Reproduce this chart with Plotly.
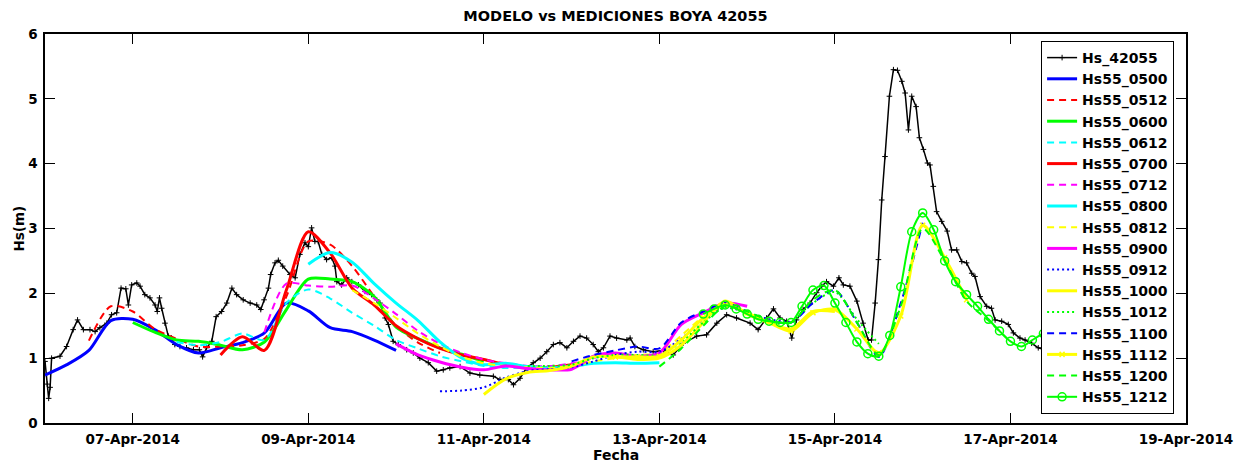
import plotly.graph_objects as go
import pandas as pd

BASE = pd.Timestamp("2014-04-06 00:00")

# ---------------- buoy 42055 (hours since 06-Apr-2014 00:00, Hs in m) ----------------
buoy_hours = [0.0, 0.6, 1.0, 1.4, 1.8, 4.1, 5.9, 7.7, 8.9, 10.5, 12.3, 13.7, 15.0, 16.9, 18.2, 19.6,
              20.8, 22.1, 22.8, 23.7, 25.1, 26.0, 27.3, 28.7, 30.1, 30.7, 31.3, 31.9, 32.8, 33.7,
              34.6, 35.5, 36.9, 38.7, 40.6, 42.2, 43.1, 44.2, 45.6, 46.8, 48.3, 49.7, 51.1, 52.4,
              54.2, 56.1, 57.9, 59.0, 59.9, 61.1, 61.7, 62.9, 63.8, 65.0, 67.0, 68.4, 69.7, 71.1,
              72.0, 72.9, 73.8, 74.7, 75.7, 77.0, 78.4, 79.3, 79.8, 81.1, 82.5, 83.9, 85.7, 87.5,
              89.3, 90.7, 91.6, 93.0, 93.9, 95.2, 96.6, 98.9, 100.7, 102.5, 104.8, 107.1, 108.9,
              110.7, 113.5, 116.2, 118.9, 122.6, 124.4, 126.7, 128.1, 129.9, 131.7, 133.5, 135.4,
              137.2, 139.0, 140.8, 142.7, 144.5, 146.3, 148.1, 149.9, 151.3, 152.7, 154.5, 156.3,
              159.1, 160.0, 161.3, 163.6, 166.3, 169.1, 171.8, 174.5, 178.2, 180.9, 183.7, 186.4,
              189.1, 192.8, 195.0, 197.3, 199.2, 201.0, 202.8, 204.2, 205.5, 207.3, 209.2, 211.0,
              212.4, 213.7, 215.6, 217.1, 218.3, 220.1, 222.0, 223.7, 225.1, 226.0, 227.0, 227.9,
              228.8, 229.7, 230.9, 232.0, 233.1, 234.3, 235.2, 236.1, 237.0, 238.2, 239.1, 240.2,
              241.3, 242.0, 242.9, 243.8, 245.2, 246.7, 247.9, 249.3, 250.7, 252.0, 253.4, 254.3,
              255.7, 257.5, 258.8, 259.8, 261.6, 263.4, 264.8, 266.6, 268.0, 269.8, 271.6, 274.0]
buoy_hs = [0.95, 0.60, 0.38, 0.55, 1.00, 1.03, 1.18, 1.44, 1.59, 1.44, 1.44, 1.41, 1.47, 1.54, 1.67, 1.70,
           2.08, 2.07, 1.82, 2.13, 2.16, 2.11, 1.98, 1.93, 1.82, 1.72, 1.93, 1.77, 1.54, 1.34,
           1.31, 1.21, 1.18, 1.16, 1.13, 1.13, 1.02, 1.16, 1.26, 1.64, 1.72, 1.85, 2.08, 1.98,
           1.90, 1.85, 1.82, 1.75, 1.90, 2.08, 2.29, 2.47, 2.51, 2.42, 2.29, 2.24, 2.60, 2.78,
           2.72, 3.01, 2.80, 2.80, 2.60, 2.52, 2.55, 2.42, 2.18, 2.13, 2.24, 2.18, 2.13, 2.03,
           1.98, 1.90, 1.85, 1.62, 1.52, 1.26, 1.21, 1.13, 1.08, 1.00, 0.93, 0.80, 0.82,
           0.85, 0.87, 0.77, 0.74, 0.72, 0.67, 0.67, 0.59, 0.69, 0.85, 0.93, 1.00,
           1.10, 1.21, 1.24, 1.16, 1.26, 1.34, 1.31, 1.21, 1.10, 1.16, 1.34, 1.31,
           1.28, 1.31, 1.18, 1.13, 1.10, 1.12, 1.05, 1.23, 1.34, 1.36, 1.54, 1.67,
           1.62, 1.54, 1.44, 1.62, 1.76, 1.62, 1.57, 1.31, 1.59, 1.75, 1.85, 2.01,
           2.11, 2.18, 2.11, 2.24, 2.13, 2.11, 1.88, 1.54, 1.28, 1.28, 1.85, 2.52,
           3.44, 4.11, 5.04, 5.45, 5.44, 5.27, 5.09, 4.52, 5.04, 4.88, 4.40, 4.22,
           4.01, 3.98, 3.65, 3.26, 3.11, 2.96, 2.67, 2.67, 2.49, 2.47, 2.31, 2.26,
           1.95, 1.80, 1.77, 1.59, 1.57, 1.52, 1.39, 1.31, 1.28, 1.23, 1.16, 1.12]

# ---------------- model runs (values every step_h hours from start_h) ----------------
run_names = ["Hs55_0500", "Hs55_0512", "Hs55_0600", "Hs55_0612", "Hs55_0700", "Hs55_0712",
             "Hs55_0800", "Hs55_0812", "Hs55_0900", "Hs55_0912", "Hs55_1000", "Hs55_1012",
             "Hs55_1100", "Hs55_1112", "Hs55_1200", "Hs55_1212"]
run_start_h = [0, 12, 24, 36, 48, 60, 72, 84, 96, 108, 120, 132, 144, 156, 168, 180]
run_step_h = [6, 6, 6, 6, 6, 6, 6, 6, 6, 6, 6, 6, 6, 6, 6, 3]

hs55_0500 = [0.74, 0.90, 1.12, 1.58, 1.60, 1.44, 1.21, 1.08, 1.16, 1.24, 1.39, 1.85, 1.73, 1.47, 1.41, 1.28, 1.12]
hs55_0512 = [1.27, 1.80, 1.72, 1.45, 1.30, 1.18, 1.18, 1.20, 1.30, 1.95, 2.80, 2.75, 2.42, 1.95, 1.50, 1.24, 1.08]
hs55_0600 = [1.55, 1.40, 1.28, 1.26, 1.20, 1.13, 1.25, 1.75, 2.22, 2.22, 2.18, 1.95, 1.48, 1.30, 1.16, 1.06, 0.95]
hs55_0612 = [1.25, 1.20, 1.25, 1.38, 1.28, 1.85, 2.06, 1.92, 1.70, 1.50, 1.28, 1.15, 1.03, 0.95, 0.88, 0.85, 0.85]
hs55_0700 = [1.05, 1.33, 1.12, 2.05, 2.95, 2.62, 2.08, 1.82, 1.50, 1.30, 1.15, 1.05, 0.98, 0.90, 0.86, 0.86, 0.90]
hs55_0712 = [1.40, 2.15, 2.12, 2.10, 2.12, 1.92, 1.68, 1.42, 1.22, 1.08, 0.98, 0.92, 0.88, 0.88, 0.92, 1.00, 1.10]
hs55_0800 = [2.45, 2.63, 2.48, 2.15, 1.85, 1.58, 1.25, 1.00, 0.90, 0.92, 0.87, 0.85, 0.87, 0.92, 0.93, 0.92, 0.93]
hs55_0812 = [2.05, 1.85, 1.62, 1.38, 1.18, 1.02, 0.92, 0.88, 0.86, 0.85, 0.88, 0.95, 1.00, 1.05, 1.08, 1.35, 1.65]
hs55_0900 = [1.22, 1.05, 0.94, 0.86, 0.82, 0.88, 0.84, 0.82, 0.83, 1.03, 1.08, 1.03, 1.08, 1.52, 1.70, 1.85, 1.80]
hs55_0912 = [0.49, 0.50, 0.55, 0.70, 0.80, 0.83, 0.86, 0.95, 1.05, 1.10, 1.10, 1.30, 1.60, 1.78, 1.70, 1.60, 1.55]
hs55_1000 = [0.44, 0.68, 0.78, 0.81, 0.88, 1.02, 1.02, 0.98, 1.00, 1.20, 1.55, 1.88, 1.68, 1.55, 1.45, 1.72, 1.72]
hs55_1012 = [0.88, 0.88, 0.90, 1.00, 1.05, 1.05, 1.05, 1.25, 1.55, 1.78, 1.70, 1.55, 1.55, 1.85, 2.02, 1.60, 1.22]
hs55_1100 = [0.95, 1.05, 1.12, 1.18, 1.15, 1.55, 1.72, 1.85, 1.72, 1.58, 1.55, 1.85, 2.05, 1.55, 1.02, 1.85, 3.09]
hs55_1112 = [1.02, 1.02, 1.03, 1.28, 1.62, 1.82, 1.70, 1.55, 1.42, 1.70, 1.75, 1.45, 1.08, 1.65, 3.05, 2.55, 1.90]
hs55_1200 = [0.87, 1.15, 1.50, 1.80, 1.72, 1.58, 1.55, 1.90, 2.05, 1.55, 1.05, 1.80, 3.00, 2.50, 1.88, 1.58, 1.25]
hs55_1212 = [1.68, 1.76, 1.82, 1.76, 1.68, 1.60, 1.57, 1.55, 1.55, 1.80, 2.05, 2.12, 1.85, 1.55, 1.25, 1.07,
             1.03, 1.35, 2.10, 2.95, 3.24, 2.98, 2.50, 2.18, 1.98, 1.80, 1.60, 1.42, 1.26, 1.18, 1.28, 1.38, 1.42]

run_values = [hs55_0500, hs55_0512, hs55_0600, hs55_0612, hs55_0700, hs55_0712, hs55_0800, hs55_0812,
              hs55_0900, hs55_0912, hs55_1000, hs55_1012, hs55_1100, hs55_1112, hs55_1200, hs55_1212]

x_tick_dates = ["2014-04-07", "2014-04-09", "2014-04-11", "2014-04-13", "2014-04-15", "2014-04-17", "2014-04-19"]
y_ticks = [0, 1, 2, 3, 4, 5, 6]

# ---------------- styles ----------------
BLUE, RED, GREEN, CYAN, MAG, YEL = "#0000FF", "#FF0000", "#00FF00", "#00FFFF", "#FF00FF", "#FFFF00"
DASH = "7px,5px"
DOT = "2px,3px"
styles = [
    (BLUE, "solid", 3, None),
    (RED, DASH, 2, None),
    (GREEN, "solid", 3, None),
    (CYAN, DASH, 2, None),
    (RED, "solid", 3, None),
    (MAG, DASH, 2, None),
    (CYAN, "solid", 3, None),
    (YEL, DASH, 2, None),
    (MAG, "solid", 3, None),
    (BLUE, DOT, 2, None),
    (YEL, "solid", 3, None),
    (GREEN, DOT, 2, None),
    (BLUE, DASH, 2, None),
    (YEL, "solid", 3, "x-thin-open"),
    (GREEN, DASH, 2, None),
    (GREEN, "solid", 2, "circle-open"),
]

FONT = "DejaVu Sans"
# the page body has an 8px default margin: the figure is sized so that the plot
# area lands where the reference has it (x 45..1186, y 34..423 in the window)
FIG_W, FIG_H = 1246, 460

fig = go.Figure()
fig.add_trace(go.Scatter(
    x=[BASE + pd.Timedelta(hours=h) for h in buoy_hours], y=buoy_hs,
    name="Hs_42055", mode="lines+markers",
    line=dict(color="black", width=1.5),
    marker=dict(symbol="cross-thin-open", size=4, line=dict(color="black", width=1)),
))

for name, start, step, vals, st in zip(run_names, run_start_h, run_step_h, run_values, styles):
    color, dash, width, sym = st
    xs = [BASE + pd.Timedelta(hours=start + i * step) for i in range(len(vals))]
    kw = {}
    if sym is None:
        mode = "lines"
    else:
        mode = "lines+markers"
        size = 8 if sym == "circle-open" else 5
        kw["marker"] = dict(symbol=sym, size=size, color=color, line=dict(color=color, width=1.5))
    fig.add_trace(go.Scatter(
        x=xs, y=vals, name=name, mode=mode,
        line=dict(color=color, width=width, dash=dash, shape="spline", smoothing=0.8),
        **kw,
    ))

fig.update_layout(
    width=FIG_W, height=FIG_H,
    margin=dict(l=37, r=68, t=26, b=45),
    paper_bgcolor="white", plot_bgcolor="white",
    font=dict(family=FONT, color="black", size=13.5, weight="bold"),
    title=dict(text="MODELO vs MEDICIONES BOYA 42055", x=0.5, xref="paper", xanchor="center",
               y=1 - 8 / FIG_H, yref="container", yanchor="middle",
               font=dict(family=FONT, size=14.5, color="black", weight="bold")),
    showlegend=True,
    legend=dict(x=0.873, y=0.982, xanchor="left", yanchor="top",
                bgcolor="white", bordercolor="black", borderwidth=1,
                font=dict(family=FONT, size=14, color="black", weight="bold"),
                tracegroupgap=0),
    xaxis=dict(range=["2014-04-06", "2014-04-19"], tickvals=x_tick_dates, tickformat="%d-%b-%Y",
               showgrid=False, zeroline=False, showline=True, linecolor="black", linewidth=1.5,
               mirror="ticks", ticks="inside", ticklen=10, tickwidth=1.2, tickcolor="black",
               ticklabelstandoff=3,
               tickfont=dict(family=FONT, size=13.5, color="black", weight="bold")),
    yaxis=dict(range=[0, 6], tickvals=y_ticks,
               showgrid=False, zeroline=False, showline=True, linecolor="black", linewidth=1.5,
               mirror="ticks", ticks="inside", ticklen=10, tickwidth=1.2, tickcolor="black",
               ticklabelstandoff=3,
               tickfont=dict(family=FONT, size=13.5, color="black", weight="bold")),
    annotations=[
        dict(text="Fecha", xref="paper", yref="paper", x=0.5, y=-32 / 389, xanchor="center",
             yanchor="middle", showarrow=False, font=dict(family=FONT, size=14, color="black", weight="bold")),
        dict(text="Hs(m)", xref="paper", yref="paper", x=-27 / 1141, y=0.5, xanchor="center",
             yanchor="middle", textangle=-90, showarrow=False,
             font=dict(family=FONT, size=13.5, color="black", weight="bold")),
    ],
)

fig.write_html("out.html")
